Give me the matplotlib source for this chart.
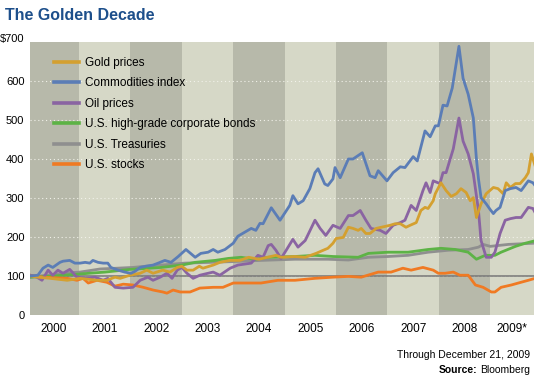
import matplotlib
matplotlib.use("Agg")
import matplotlib.pyplot as plt
from matplotlib import font_manager as fm

names = {f.name for f in fm.fontManager.ttflist}
FONT = "Liberation Sans Narrow" if "Liberation Sans Narrow" in names else "Liberation Sans"
plt.rcParams['font.family'] = [FONT, 'DejaVu Sans']

# ---------------- data ----------------
years_labels = ["2000", "2001", "2002", "2003", "2004", "2005", "2006", "2007", "2008", "2009*"]
yticks = [0, 100, 200, 300, 400, 500, 600, 700]
ytick_labels = ["0", "100", "200", "300", "400", "500", "600", "$700"]

comm_x = [2000.05, 2000.20, 2000.30, 2000.40, 2000.49, 2000.63, 2000.69, 2000.82, 2000.92, 2001.02,
          2001.12, 2001.21, 2001.27, 2001.37, 2001.47, 2001.56, 2001.62, 2001.76, 2001.89, 2002.01,
          2002.09, 2002.19, 2002.30, 2002.44, 2002.54, 2002.67, 2002.79, 2002.93, 2003.08, 2003.26,
          2003.37, 2003.51, 2003.61, 2003.70, 2003.84, 2003.94, 2004.00, 2004.09, 2004.35, 2004.44,
          2004.52, 2004.58, 2004.74, 2004.91, 2005.10, 2005.16, 2005.26, 2005.36, 2005.49, 2005.59,
          2005.65, 2005.78, 2005.84, 2005.94, 2005.98, 2006.08, 2006.24, 2006.33, 2006.51, 2006.66,
          2006.76, 2006.82, 2006.99, 2007.11, 2007.25, 2007.34, 2007.50, 2007.58, 2007.73, 2007.83,
          2007.93, 2007.99, 2008.08, 2008.16, 2008.26, 2008.39, 2008.47, 2008.57, 2008.67, 2008.73,
          2008.77, 2008.82, 2008.92, 2009.00, 2009.06, 2009.11, 2009.19, 2009.29, 2009.39, 2009.50,
          2009.60, 2009.74, 2009.83, 2009.87]
comm_y = [100, 102, 120, 128, 122, 135, 138, 140, 133, 133,
          135, 133, 140, 135, 133, 133, 122, 115, 110, 107,
          112, 122, 125, 128, 133, 140, 135, 150, 168, 148,
          158, 161, 168, 161, 168, 178, 184, 202, 222, 217,
          235, 234, 275, 243, 281, 306, 285, 293, 324, 365,
          375, 336, 332, 349, 378, 352, 400, 400, 416, 357,
          352, 370, 344, 365, 380, 378, 406, 395, 472, 457,
          485, 485, 538, 536, 582, 689, 607, 566, 505, 400,
          349, 301, 285, 270, 260, 268, 276, 319, 324, 327,
          319, 344, 339, 332]

gold_x = [2000.05, 2000.20, 2000.44, 2000.77, 2001.02, 2001.35, 2001.54, 2001.70, 2001.80, 2001.99,
          2002.19, 2002.32, 2002.44, 2002.63, 2002.77, 2002.91, 2003.00, 2003.10, 2003.22, 2003.34,
          2003.41, 2003.61, 2003.74, 2003.94, 2004.13, 2004.30, 2004.50, 2004.83, 2004.93, 2005.20,
          2005.40, 2005.61, 2005.75, 2005.84, 2005.94, 2006.00, 2006.14, 2006.24, 2006.33, 2006.43,
          2006.49, 2006.58, 2006.66, 2006.78, 2006.88, 2007.05, 2007.15, 2007.25, 2007.36, 2007.44,
          2007.56, 2007.65, 2007.73, 2007.79, 2007.89, 2007.93, 2008.04, 2008.14, 2008.24, 2008.34,
          2008.43, 2008.53, 2008.61, 2008.67, 2008.73, 2008.82, 2008.92, 2009.06, 2009.15, 2009.25,
          2009.31, 2009.39, 2009.49, 2009.58, 2009.68, 2009.74, 2009.80, 2009.87]
gold_y = [100, 97, 94, 89, 94, 89, 89, 97, 94, 102,
          107, 115, 107, 115, 110, 122, 125, 115, 115, 125,
          120, 128, 135, 140, 140, 148, 143, 153, 148, 150,
          148, 158, 166, 171, 184, 196, 199, 225, 222, 217,
          222, 209, 209, 222, 225, 230, 234, 234, 225, 230,
          237, 268, 276, 273, 293, 311, 339, 319, 304, 311,
          324, 314, 293, 301, 250, 285, 311, 327, 324, 311,
          339, 327, 337, 337, 352, 365, 413, 383]

oil_x = [2000.05, 2000.18, 2000.28, 2000.40, 2000.49, 2000.59, 2000.69, 2000.82, 2000.96, 2001.16,
         2001.31, 2001.47, 2001.56, 2001.70, 2001.86, 2002.05, 2002.19, 2002.34, 2002.44, 2002.58,
         2002.71, 2002.81, 2002.91, 2003.00, 2003.10, 2003.22, 2003.35, 2003.51, 2003.61, 2003.74,
         2003.94, 2004.09, 2004.35, 2004.48, 2004.58, 2004.68, 2004.74, 2004.83, 2004.93, 2005.03,
         2005.16, 2005.26, 2005.40, 2005.59, 2005.69, 2005.80, 2005.94, 2006.08, 2006.24, 2006.33,
         2006.47, 2006.58, 2006.68, 2006.86, 2006.97, 2007.11, 2007.25, 2007.34, 2007.46, 2007.56,
         2007.69, 2007.75, 2007.83, 2007.89, 2008.02, 2008.08, 2008.14, 2008.28, 2008.39, 2008.47,
         2008.57, 2008.67, 2008.77, 2008.82, 2008.92, 2009.02, 2009.09, 2009.19, 2009.29, 2009.39,
         2009.50, 2009.60, 2009.74, 2009.83, 2009.87]
oil_y = [102, 97, 89, 115, 102, 115, 107, 117, 97, 94,
         97, 89, 94, 71, 69, 71, 89, 97, 89, 97,
         107, 94, 115, 122, 107, 94, 102, 107, 110, 102,
         120, 128, 133, 153, 148, 178, 181, 166, 145, 166,
         194, 174, 191, 243, 222, 204, 230, 222, 255, 255,
         268, 243, 222, 217, 209, 230, 237, 243, 281, 268,
         319, 339, 314, 344, 337, 365, 365, 426, 505, 446,
         413, 362, 268, 191, 148, 148, 161, 209, 243, 247,
         250, 250, 276, 273, 263]

bonds_x = [2000.05, 2000.50, 2001.00, 2001.50, 2002.00, 2002.60, 2003.00, 2003.26, 2003.65, 2003.90,
           2004.15, 2004.42, 2004.68, 2005.20, 2005.59, 2005.94, 2006.43, 2006.63, 2007.01, 2007.40,
           2007.79, 2008.04, 2008.32, 2008.57, 2008.73, 2008.90, 2009.09, 2009.21, 2009.49, 2009.68,
           2009.83]
bonds_y = [97, 100, 105, 110, 117, 122, 128, 135, 140, 145,
           148, 143, 148, 150, 153, 150, 148, 158, 161, 161,
           168, 171, 168, 161, 143, 153, 153, 161, 176, 184,
           189]

treas_x = [2000.05, 2000.50, 2000.77, 2001.02, 2001.41, 2001.74, 2002.05, 2002.38, 2002.60, 2003.06,
           2003.57, 2004.00, 2004.54, 2005.20, 2005.84, 2006.24, 2006.63, 2007.01, 2007.40, 2007.79,
           2008.18, 2008.57, 2008.77, 2008.86, 2009.00, 2009.35, 2009.83]
treas_y = [97, 104, 108, 110, 118, 120, 122, 126, 128, 133,
           135, 137, 140, 143, 143, 141, 148, 150, 153, 161,
           166, 168, 174, 181, 176, 181, 184]

stocks_x = [2000.05, 2000.30, 2000.77, 2000.96, 2001.08, 2001.18, 2001.35, 2001.54, 2001.70, 2001.86,
            2002.05, 2002.25, 2002.44, 2002.63, 2002.71, 2002.83, 2002.97, 2003.16, 2003.35, 2003.61,
            2003.80, 2004.00, 2004.39, 2004.54, 2004.87, 2005.20, 2005.59, 2005.94, 2006.24, 2006.49,
            2006.82, 2007.07, 2007.30, 2007.46, 2007.69, 2007.89, 2007.99, 2008.12, 2008.28, 2008.41,
            2008.57, 2008.71, 2008.86, 2009.02, 2009.09, 2009.21, 2009.41, 2009.60, 2009.74, 2009.87]
stocks_y = [102, 97, 94, 89, 94, 82, 89, 84, 74, 79,
            77, 71, 64, 59, 56, 64, 59, 59, 69, 71,
            71, 82, 82, 82, 89, 89, 94, 97, 99, 97,
            110, 110, 120, 115, 122, 115, 107, 107, 110, 102,
            102, 77, 71, 59, 59, 71, 77, 84, 89, 94]

series = [
    ("U.S. Treasuries", treas_x, treas_y, "#8f8f8f"),
    ("U.S. high-grade corporate bonds", bonds_x, bonds_y, "#5db346"),
    ("U.S. stocks", stocks_x, stocks_y, "#f07a23"),
    ("Oil prices", oil_x, oil_y, "#8a64a2"),
    ("Gold prices", gold_x, gold_y, "#d4a030"),
    ("Commodities index", comm_x, comm_y, "#5b7db6"),
]
legend_order = ["Gold prices", "Commodities index", "Oil prices",
                "U.S. high-grade corporate bonds", "U.S. Treasuries", "U.S. stocks"]

FS = 8

# ---------------- figure ----------------
fig = plt.figure(figsize=(5.44, 3.77), dpi=100)
ax = fig.add_axes([30/544, 1 - 315/377, 504/544, 273/377])
x0, x1 = 2000.047, 2009.85
ax.set_xlim(x0, x1)
ax.set_ylim(0, 700)

dark, light = "#b7b9aa", "#d6d8c7"
for i in range(10):
    lo = max(2000 + i, x0)
    hi = min(2001 + i, x1)
    ax.axvspan(lo, hi, color=dark if i % 2 == 0 else light, lw=0, zorder=0)

for v in yticks[1:-1]:
    ax.axhline(v, color="#f2f2ea", lw=0.8, ls=(0, (1, 2.5)), zorder=1)
ax.axhline(100, color="#777777", lw=1.1, zorder=2)

handles = {}
for name, xs, ys, col in series:
    (ln,) = ax.plot(xs, ys, color=col, lw=2.0, solid_joinstyle="round", zorder=3)
    handles[name] = ln

leg = ax.legend([handles[n] for n in legend_order], legend_order, loc="upper left",
                bbox_to_anchor=(0.036, 0.967), frameon=False, fontsize=FS + 0.5,
                handlelength=2.1, handletextpad=0.55, labelspacing=0.72, borderpad=0)
for h in leg.get_lines():
    h.set_linewidth(2.6)

for s in ax.spines.values():
    s.set_visible(False)
ax.set_yticks(yticks)
ax.set_yticklabels(ytick_labels, fontsize=FS)
ax.tick_params(axis="y", length=0, pad=4)
ax.get_yticklabels()[-1].set_va("baseline")
ax.set_xticks([2000.5 + i for i in range(9)] + [(2009 + x1) / 2])
ax.set_xticklabels(years_labels, fontsize=FS + 0.5)
ax.tick_params(axis="x", length=0, pad=6)

fig.text(5/544, 1 - 15/377, "The Golden Decade", fontsize=11.5, fontweight="bold",
         color="#1d4f8b", ha="left", va="center")
fig.text(530/544, 1 - 355/377, "Through December 21, 2009", fontsize=FS - 0.5,
         ha="right", va="center")
t_bl = fig.text(530/544, 1 - 370/377, "Bloomberg", fontsize=FS - 0.5, ha="right", va="center")
fig.canvas.draw()
bb = t_bl.get_window_extent(fig.canvas.get_renderer())
fig.text((bb.x0 - 3) / 544, 1 - 370/377, "Source:", fontsize=FS - 0.5, fontweight="bold",
         ha="right", va="center")

fig.savefig("out.png", dpi=100)
